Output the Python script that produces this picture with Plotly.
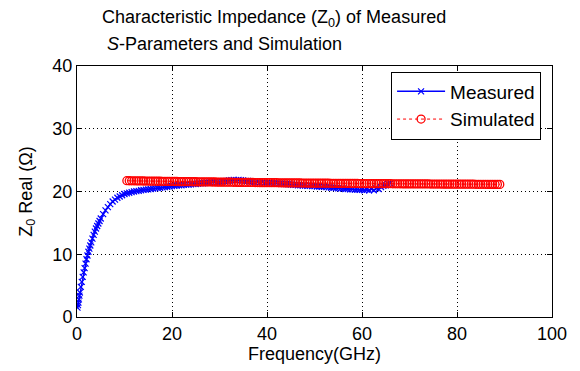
import plotly.graph_objects as go

# ---- data ----
meas_freq = [0.1, 0.2, 0.3, 0.4, 0.5, 0.6, 0.8, 1.0, 1.2, 1.4,
             1.6, 1.8, 2.0, 2.2, 2.4, 2.6, 2.8, 3.0, 3.25, 3.5,
             3.75, 4.0, 4.25, 4.5, 4.75, 5.0, 5.5, 6.0, 6.5, 7.0,
             7.5, 8.0, 8.5, 9.0, 9.5,
             10.0, 10.5, 11.0, 11.5, 12.0, 12.5, 13.0, 13.5, 14.0, 14.5,
             15.0, 15.5, 16.0, 16.5, 17.0, 17.5, 18.0, 18.5, 19.0, 19.5,
             20.0, 20.5, 21.0, 21.5, 22.0, 22.5, 23.0, 23.5, 24.0, 24.5,
             25.0, 25.5, 26.0, 26.5, 27.0, 27.5, 28.0, 28.5, 29.0, 29.5,
             30.0, 30.5, 31.0, 31.5, 32.0, 32.5, 33.0, 33.5, 34.0, 34.5,
             35.0, 35.5, 36.0, 36.5, 37.0, 37.5, 38.0, 38.5, 39.0, 39.5,
             40.0, 40.5, 41.0, 41.5, 42.0, 42.5, 43.0, 43.5, 44.0, 44.5,
             45.0, 45.5, 46.0, 46.5, 47.0, 47.5, 48.0, 48.5, 49.0, 49.5,
             50.0, 50.5, 51.0, 51.5, 52.0, 52.5, 53.0, 53.5, 54.0, 54.5,
             55.0, 55.5, 56.0, 56.5, 57.0, 57.5, 58.0, 58.5, 59.0, 59.5,
             60.0, 60.5, 61.0, 61.5, 62.0, 62.5, 63.0, 63.5, 64.0, 64.5,
             65.0, 65.5, 66.0]
meas_z = [1.5, 1.9, 2.3, 2.8, 3.4, 3.9, 4.8, 5.6, 6.4, 7.1,
          7.8, 8.5, 9.2, 9.8, 10.4, 10.9, 11.4, 11.9, 12.5, 13.1,
          13.6, 14.1, 14.5, 14.9, 15.3, 15.7, 16.4, 17.0, 17.5, 18.0,
          18.4, 18.7, 19.0, 19.2, 19.4,
          19.6, 19.7, 19.8, 19.9, 20.0, 20.05, 20.1, 20.2, 20.25, 20.3,
          20.35, 20.4, 20.45, 20.5, 20.55, 20.6, 20.65, 20.7, 20.75, 20.8,
          20.85, 20.9, 20.95, 21.0, 21.0, 21.05, 21.1, 21.1, 21.15, 21.2,
          21.2, 21.25, 21.3, 21.3, 21.35, 21.4, 21.4, 21.45, 21.5, 21.5,
          21.55, 21.6, 21.65, 21.7, 21.75, 21.8, 21.85, 21.8, 21.85, 21.8,
          21.75, 21.7, 21.7, 21.6, 21.6, 21.5, 21.55, 21.45, 21.5, 21.4,
          21.4, 21.35, 21.35, 21.3, 21.3, 21.25, 21.25, 21.2, 21.2, 21.15,
          21.1, 21.05, 21.05, 21.0, 21.0, 20.95, 20.95, 20.9, 20.9, 20.85,
          20.85, 20.8, 20.8, 20.75, 20.75, 20.7, 20.65, 20.6, 20.6, 20.55,
          20.5, 20.45, 20.45, 20.4, 20.4, 20.35, 20.35, 20.3, 20.3, 20.25,
          20.25, 20.2, 20.3, 20.2, 20.4, 20.2, 20.5, 20.4, 20.7, 20.9,
          21.0, 21.2, 21.3]

sim_freq = [10.5, 11.0, 11.5, 12.0, 12.5, 13.0, 13.5, 14.0, 14.5, 15.0,
            15.5, 16.0, 16.5, 17.0, 17.5, 18.0, 18.5, 19.0, 19.5, 20.0,
            20.5, 21.0, 21.5, 22.0, 22.5, 23.0, 23.5, 24.0, 24.5, 25.0,
            25.5, 26.0, 26.5, 27.0, 27.5, 28.0, 28.5, 29.0, 29.5, 30.0,
            30.5, 31.0, 31.5, 32.0, 32.5, 33.0, 33.5, 34.0, 34.5, 35.0,
            35.5, 36.0, 36.5, 37.0, 37.5, 38.0, 38.5, 39.0, 39.5, 40.0,
            40.5, 41.0, 41.5, 42.0, 42.5, 43.0, 43.5, 44.0, 44.5, 45.0,
            45.5, 46.0, 46.5, 47.0, 47.5, 48.0, 48.5, 49.0, 49.5, 50.0,
            50.5, 51.0, 51.5, 52.0, 52.5, 53.0, 53.5, 54.0, 54.5, 55.0,
            55.5, 56.0, 56.5, 57.0, 57.5, 58.0, 58.5, 59.0, 59.5, 60.0,
            60.5, 61.0, 61.5, 62.0, 62.5, 63.0, 63.5, 64.0, 64.5, 65.0,
            65.5, 66.0, 66.5, 67.0, 67.5, 68.0, 68.5, 69.0, 69.5, 70.0,
            70.5, 71.0, 71.5, 72.0, 72.5, 73.0, 73.5, 74.0, 74.5, 75.0,
            75.5, 76.0, 76.5, 77.0, 77.5, 78.0, 78.5, 79.0, 79.5, 80.0,
            80.5, 81.0, 81.5, 82.0, 82.5, 83.0, 83.5, 84.0, 84.5, 85.0,
            85.5, 86.0, 86.5, 87.0, 87.5, 88.0, 88.5, 89.0]
sim_z = [21.72, 21.71, 21.70, 21.70, 21.69, 21.68, 21.68, 21.67, 21.66, 21.66,
         21.65, 21.64, 21.64, 21.63, 21.63, 21.62, 21.61, 21.61, 21.60, 21.60,
         21.59, 21.59, 21.58, 21.58, 21.57, 21.57, 21.56, 21.56, 21.55, 21.55,
         21.54, 21.54, 21.53, 21.53, 21.52, 21.52, 21.51, 21.51, 21.50, 21.50,
         21.50, 21.49, 21.49, 21.48, 21.48, 21.47, 21.47, 21.46, 21.46, 21.45,
         21.45, 21.45, 21.44, 21.44, 21.43, 21.43, 21.42, 21.42, 21.42, 21.41,
         21.41, 21.40, 21.40, 21.40, 21.39, 21.39, 21.38, 21.38, 21.38, 21.37,
         21.37, 21.36, 21.36, 21.36, 21.35, 21.35, 21.35, 21.34, 21.34, 21.34,
         21.33, 21.33, 21.33, 21.32, 21.32, 21.32, 21.31, 21.31, 21.31, 21.30,
         21.30, 21.30, 21.29, 21.29, 21.29, 21.28, 21.28, 21.28, 21.27, 21.27,
         21.27, 21.27, 21.26, 21.26, 21.26, 21.25, 21.25, 21.25, 21.25, 21.24,
         21.24, 21.24, 21.23, 21.23, 21.23, 21.23, 21.22, 21.22, 21.22, 21.22,
         21.21, 21.21, 21.21, 21.21, 21.20, 21.20, 21.20, 21.20, 21.19, 21.19,
         21.19, 21.19, 21.19, 21.18, 21.18, 21.18, 21.18, 21.17, 21.17, 21.17,
         21.17, 21.17, 21.16, 21.16, 21.16, 21.16, 21.16, 21.15, 21.15, 21.15,
         21.15, 21.15, 21.14, 21.14, 21.14, 21.14, 21.13, 21.13]

x_ticks = [0, 20, 40, 60, 80, 100]
y_ticks = [0, 10, 20, 30, 40]

title_line1 = "Characteristic Impedance (Z<sub>0</sub>) of Measured"
title_line2 = "<i>S</i>-Parameters and Simulation"

FONT = "Liberation Sans, Arial, sans-serif"

fig = go.Figure()
fig.add_trace(go.Scatter(
    x=meas_freq, y=meas_z, name="Measured", mode="lines+markers",
    line=dict(color="#0000ff", width=1.5),
    marker=dict(symbol="x-thin", size=6, line=dict(color="#0000ff", width=1.2), color="#0000ff"),
))
fig.add_trace(go.Scatter(
    x=sim_freq, y=sim_z, name="Simulated", mode="lines+markers",
    line=dict(color="#ff0000", width=1, dash="dot"),
    marker=dict(symbol="circle-open", size=8, color="#ff0000", line=dict(color="#ff0000", width=1.3)),
))

axis_common = dict(
    showline=True, linecolor="black", linewidth=1, mirror="ticks",
    ticks="inside", ticklen=5, tickcolor="black", automargin=False,
    showgrid=True, gridcolor="black", gridwidth=1, griddash="1px,3px",
    zeroline=False, tickfont=dict(family=FONT, size=18, color="black"),
)

fig.update_xaxes(range=[0, 100], tickvals=x_ticks, **axis_common,
                 title=dict(text="Frequency(GHz)", font=dict(family=FONT, size=18, color="black"), standoff=2))
fig.update_yaxes(range=[0, 40], tickvals=y_ticks, **axis_common,
                 title=dict(text="Z<sub>0</sub> Real (Ω)", font=dict(family=FONT, size=18, color="black"), standoff=15))

fig.add_annotation(
    xref="paper", yref="paper", x=0.048, y=1.0, yshift=48,
    xanchor="left", yanchor="middle", showarrow=False,
    text=title_line1, font=dict(family=FONT, size=18, color="black"),
)
fig.add_annotation(
    xref="paper", yref="paper", x=0.059, y=1.0, yshift=22,
    xanchor="left", yanchor="middle", showarrow=False,
    text=title_line2, font=dict(family=FONT, size=18, color="black"),
)

# page body has an 8px margin, so the figure is 8px smaller and offset
fig.update_layout(
    width=572, height=363,
    margin=dict(l=69, r=28, t=58, b=54, autoexpand=False),
    paper_bgcolor="white", plot_bgcolor="white",
    showlegend=True,
    legend=dict(x=0.977, y=0.978, xanchor="right", yanchor="top",
                bgcolor="white", bordercolor="black", borderwidth=1,
                font=dict(family=FONT, size=19, color="black"),
                tracegroupgap=0, itemwidth=48),
)

fig.write_html("out.html")
